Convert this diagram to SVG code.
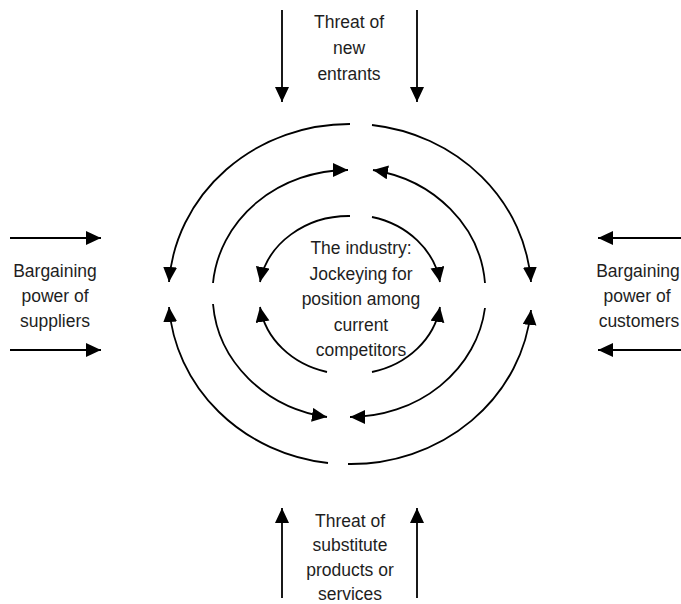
<svg xmlns="http://www.w3.org/2000/svg" width="681" height="604" viewBox="0 0 681 604">
<style>
.c{fill:none;stroke:#000;stroke-width:1.8;marker-end:url(#ah)}
.t{font-family:"Liberation Sans",Arial,sans-serif;font-size:17.5px;fill:#1e1e1e;text-anchor:middle}
</style>
<defs>
<marker id="ah" markerUnits="userSpaceOnUse" markerWidth="16" markerHeight="15" refX="15" refY="7" orient="auto" viewBox="0 0 16 15">
<path d="M0,0 L15,7 L0,14 z" fill="#000"/>
</marker>
</defs>
<rect width="681" height="604" fill="#fff"/>
<g id="connectors">
<path class="c" d="M282,10 L282,102"/>
<path class="c" d="M417,10 L417,102"/>
<path class="c" d="M282,598 L282,508"/>
<path class="c" d="M417,598 L417,508"/>
<path class="c" d="M10,238 L101,238"/>
<path class="c" d="M10,350 L101,350"/>
<path class="c" d="M681,238 L598,238"/>
<path class="c" d="M681,350 L598,350"/>
<path class="c" d="M350,124 A181,170 0 0 0 169,282"/>
<path class="c" d="M372,125 A181,170 0 0 1 531,282"/>
<path class="c" d="M328,463 A181,170 0 0 1 169,307"/>
<path class="c" d="M348,464 A181,170 0 0 0 531,310"/>
<path class="c" d="M213,283 A136,124 0 0 1 348,170"/>
<path class="c" d="M485,283 A136,124 0 0 0 373,170"/>
<path class="c" d="M213,304 A136,124 0 0 0 327,417"/>
<path class="c" d="M485,308 A136,124 0 0 1 350,417"/>
<path class="c" d="M350,216 A90,79 0 0 0 260,282"/>
<path class="c" d="M372,217 A90,79 0 0 1 440,282"/>
<path class="c" d="M327,372 A90,79 0 0 1 260,307"/>
<path class="c" d="M372,372 A90,79 0 0 0 440,307"/>
</g>
<g id="new-entrants">
<text class="t" x="349" y="28">Threat of</text>
<text class="t" x="349" y="54">new</text>
<text class="t" x="349" y="80">entrants</text>
</g>
<g id="industry">
<text class="t" x="361" y="254">The industry:</text>
<text class="t" x="361" y="279.5">Jockeying for</text>
<text class="t" x="361" y="305">position among</text>
<text class="t" x="361" y="330.5">current</text>
<text class="t" x="361" y="356">competitors</text>
</g>
<g id="suppliers">
<text class="t" x="55" y="277">Bargaining</text>
<text class="t" x="55" y="302">power of</text>
<text class="t" x="55" y="327">suppliers</text>
</g>
<g id="customers">
<text class="t" x="638" y="277">Bargaining</text>
<text class="t" x="637" y="302">power of</text>
<text class="t" x="639" y="327">customers</text>
</g>
<g id="substitutes">
<text class="t" x="350" y="527">Threat of</text>
<text class="t" x="350" y="551">substitute</text>
<text class="t" x="350" y="576">products or</text>
<text class="t" x="350" y="600">services</text>
</g>
</svg>
